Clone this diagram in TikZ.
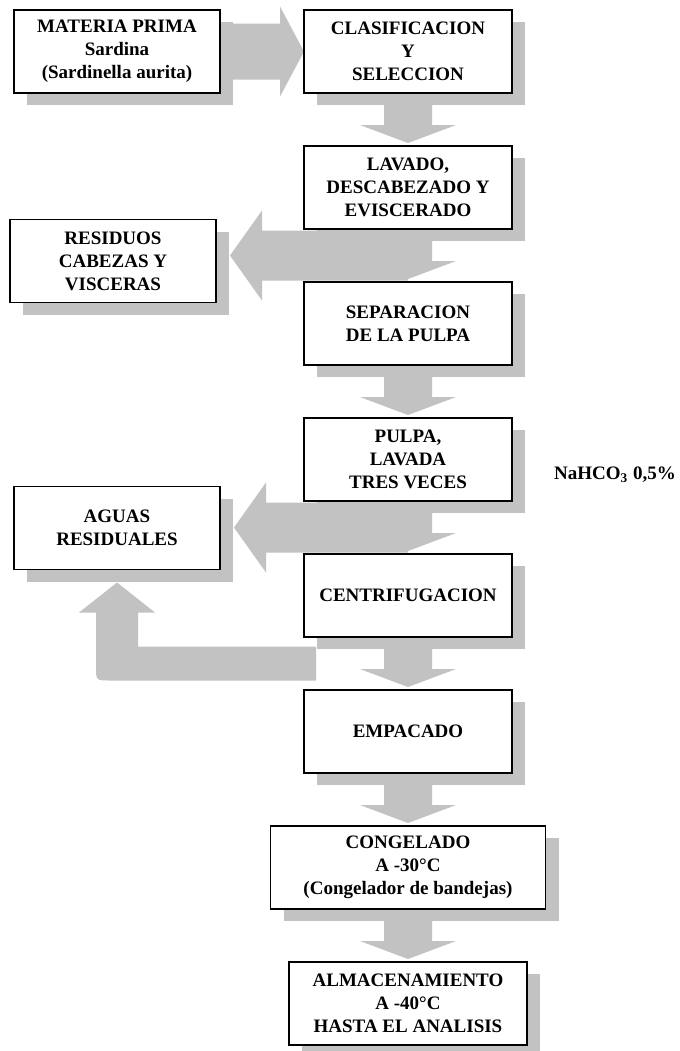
\documentclass[tikz,border=0pt]{standalone}
\usepackage{fontspec}
\setmainfont{Liberation Serif}
\usetikzlibrary{positioning,calc,shadows,backgrounds}
\definecolor{shade}{HTML}{C2C2C2}

\begin{document}
\begin{tikzpicture}[
    x=0.5pt, y=-0.5pt,
    font=\bfseries\fontsize{9.5}{11.5}\selectfont,
    stage/.style={
        rectangle, draw=black, line width=0.8pt, fill=white,
        minimum width=104pt, minimum height=41.5pt,
        align=center, inner sep=2pt, outer sep=0pt,
        drop shadow={shadow xshift=6.5pt, shadow yshift=-6pt, fill=shade, opacity=1},
    },
    side/.style={stage, minimum width=103pt},
    blockarrow/.style={fill=shade, draw=none},
]

\useasboundingbox (0,0) rectangle (680,1051);

% Main process column
\node[stage] (clas) at (408,51.5) {CLASIFICACION\\Y\\SELECCION};
\node[stage, below=26.5pt of clas] (lav) {LAVADO,\\DESCABEZADO Y\\EVISCERADO};
\node[stage, below=26.5pt of lav] (sep) {SEPARACION\\DE LA PULPA};
\node[stage, below=26.5pt of sep] (pulpa) {PULPA,\\LAVADA\\TRES VECES};
\node[stage, below=26.5pt of pulpa] (cen) {CENTRIFUGACION};
\node[stage, below=26.5pt of cen] (emp) {EMPACADO};
\node[stage, minimum width=137.5pt, below=26.5pt of emp] (cong) {CONGELADO\\A -30°C\\(Congelador de bandejas)};
\node[stage, minimum width=119pt, below=26.5pt of cong] (alm) {ALMACENAMIENTO\\A -40°C\\HASTA EL ANALISIS};

% Input and waste boxes
\node[side, left=42pt of clas] (mat) {MATERIA PRIMA\\Sardina\\(Sardinella aurita)};
\node[side] (res) at (113,261) {RESIDUOS\\CABEZAS Y\\VISCERAS};
\node[side] (aguas) at (117,528) {AGUAS\\RESIDUALES};

\node[inner sep=0pt] (bicarb) at (615,475) {NaHCO\textsubscript{3} 0,5\%};

% Block arrows behind the boxes
\begin{scope}[on background layer]
\fill[white] (0,0) rectangle (680,1051);

\fill[blockarrow] ($(mat.east)+(0,-28)$) -- ($(clas.west)+(-24,-28)$) -- ++(0,-17)
    -- (clas.west) -- ($(clas.west)+(-24,45)$) -- ++(0,-17) -- ($(mat.east)+(0,28)$) -- cycle;

\foreach \a/\b in {clas/lav, lav/sep, sep/pulpa, pulpa/cen, cen/emp, emp/cong, cong/alm}
    \fill[blockarrow] ($(\a.south)+(-24,0)$) -- ($(\a.south)+(-24,32)$) -- ($(\a.south)+(-48,32)$)
        -- ($(\b.north)+(0,-3)$) -- ($(\a.south)+(48,32)$) -- ($(\a.south)+(24,32)$)
        -- ($(\a.south)+(24,0)$) -- cycle;

% waste outlets
\coordinate (m1) at ($(lav.south)!.5!(sep.north)$);
\coordinate (t1) at ($(res.east |- m1)+(14,0)$);
\fill[blockarrow] (t1) -- ++(32,-45) -- ++(0,20) -- ($(m1)+(0,-25)$) -- ($(m1)+(0,25)$)
    -- ($(t1)+(32,25)$) -- ++(0,20) -- cycle;

\coordinate (m2) at ($(pulpa.south)!.5!(cen.north)$);
\coordinate (t2) at ($(aguas.east |- m2)+(14,0)$);
\fill[blockarrow] (t2) -- ++(32,-45) -- ++(0,20) -- ($(m2)+(0,-25)$) -- ($(m2)+(0,25)$)
    -- ($(t2)+(32,25)$) -- ++(0,20) -- cycle;

\coordinate (m3) at ($(cen.south)!.5!(emp.north)$);
\coordinate (t3) at ($(aguas.south)+(0,13)$);
\fill[blockarrow] ($(cen.south west |- m3)+(12,-17)$) -- ($(t3 |- m3)+(21,-17)$)
    -- ($(t3)+(21,30)$) -- ($(t3)+(38,30)$) -- (t3) -- ($(t3)+(-38,30)$) -- ($(t3)+(-21,30)$)
    -- ($(t3 |- m3)+(-21,3)$) .. controls ($(t3 |- m3)+(-21,17)$) .. ($(t3 |- m3)+(-7,17)$)
    -- ($(cen.south west |- m3)+(12,17)$) -- cycle;
\end{scope}

\end{tikzpicture}
\end{document}
